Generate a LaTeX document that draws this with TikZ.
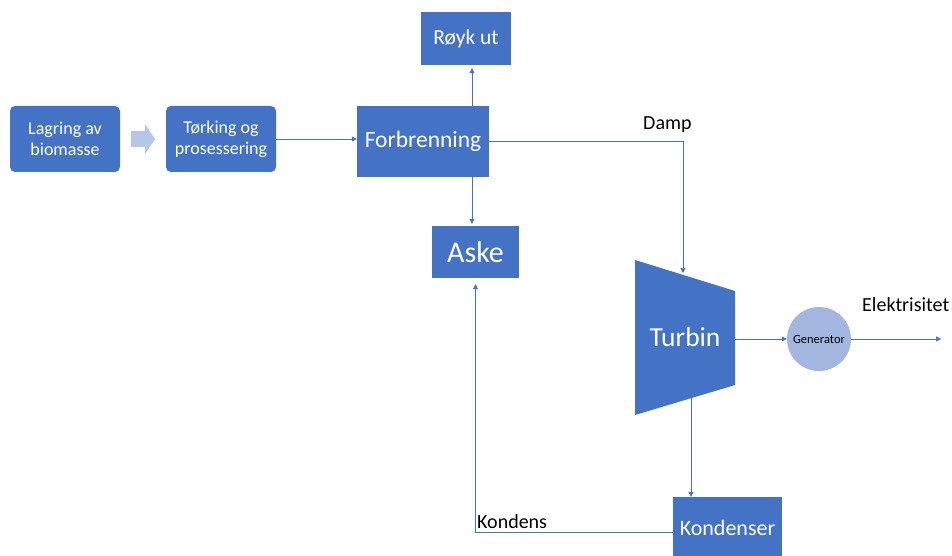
\documentclass[tikz,border=0pt]{standalone}
\usepackage{fontspec}
\setmainfont{Carlito}
\usetikzlibrary{arrows.meta,calc}
\definecolor{boxblue}{HTML}{4472C4}
\definecolor{paleblue}{HTML}{B4C7E7}
\definecolor{genblue}{HTML}{A2B6E0}
\begin{document}
\begin{tikzpicture}[x=1pt,y=-1pt,
  block/.style={fill=boxblue,draw=none,text=white,align=center,inner sep=0pt},
  flow/.style={draw=boxblue,line width=0.6pt,-{Triangle[length=5pt,width=5pt]}},
  lbl/.style={font=\fontsize{20}{22}\selectfont,inner sep=0pt,anchor=west}]
\useasboundingbox (0,0) rectangle (952,556);

% process boxes
\node[block,rounded corners=5pt,minimum width=110pt,minimum height=66pt,font=\fontsize{18}{21}\selectfont] (lag) at (65,139) {Lagring av\\biomasse};
\node[block,rounded corners=5pt,minimum width=110pt,minimum height=66pt,font=\fontsize{18}{21}\selectfont] (tork) at (221,139) {Tørking og\\prosessering};
\node[block,minimum width=132pt,minimum height=71pt,font=\fontsize{23.5}{26}\selectfont] (forb) at (423,141.5) {Forbrenning};
\node[block,minimum width=90pt,minimum height=53pt,font=\fontsize{21.5}{24}\selectfont] (royk) at (466,38.5) {Røyk ut};
\node[block,minimum width=87pt,minimum height=52pt,font=\fontsize{30}{33}\selectfont] (aske) at (475.5,252) {Aske};
\node[block,minimum width=109pt,minimum height=62pt,font=\fontsize{22}{24}\selectfont] (kond) at (727.5,528) {Kondenser};

% block arrow between the first two boxes
\fill[paleblue] (131,131) -- (145,131) -- (145,124) -- (155,139) -- (145,154) -- (145,147) -- (131,147) -- cycle;

% turbine
\fill[boxblue] (635,260) -- (735,291) -- (735,385) -- (635,415) -- cycle;
\node[text=white,font=\fontsize{27.5}{30}\selectfont,inner sep=0pt] (turb) at (685,337) {Turbin};
\coordinate (turbin) at (683,273);
\coordinate (turbright) at (735,339);
\coordinate (turbout) at (691,398);

% generator
\node[circle,fill=genblue,minimum size=64pt,inner sep=0pt,font=\fontsize{12.5}{14}\selectfont] (gen) at (819,339) {Generator};
\coordinate (elout) at (941,339);

% connectors
\coordinate (fx) at (472,0);
\draw[flow] (tork.east) -- (tork.east -| forb.west);
\draw[flow] (forb.north -| fx) -- ($(royk.south -| fx)+(0,3)$);
\draw[flow] (forb.south -| fx) -- ($(aske.north -| fx)+(0,-2)$);
\draw[flow] (forb.east) -| (turbin);
\draw[flow] (turbright) -- (gen.west);
\draw[flow] (gen.east) -- (elout);
\draw[flow] (turbout) -- (kond.north -| turbout);
\coordinate (kin) at (673,532);
\draw[flow] (kin) -| ($(aske.south)+(0,6)$);

% stream labels
\node[lbl] (damp) at (643,125) {Damp};
\node[lbl] (elek) at (862,305) {Elektrisitet};
\node[lbl] (kondens) at (477,522) {Kondens};
\end{tikzpicture}
\end{document}
